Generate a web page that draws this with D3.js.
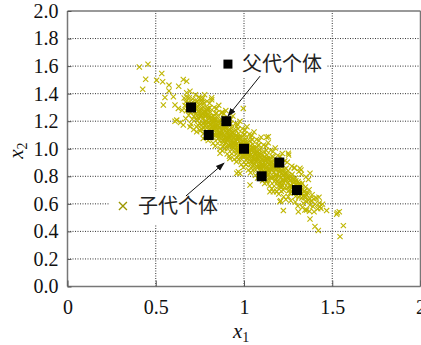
<!DOCTYPE html>
<html><head><meta charset="utf-8">
<script src="https://cdn.jsdelivr.net/npm/d3@7"></script>
<style>
html,body{margin:0;padding:0;background:#fff;}
svg{display:block;}
.serif{font-family:"Liberation Serif","Times New Roman","DejaVu Serif",serif;}
.cjk{font-family:"Noto Sans CJK SC","Noto Sans",sans-serif;}
</style></head>
<body><svg id="c" width="421" height="345"></svg>
<script>
// ---------- data ----------
const xTicks = [0, 0.5, 1, 1.5, 2];
const xTickLabels = ["0", "0.5", "1", "1.5", "2"];
const yTicks = [0, 0.2, 0.4, 0.6, 0.8, 1.0, 1.2, 1.4, 1.6, 1.8, 2.0];
const yTickLabels = ["0.0","0.2","0.4","0.6","0.8","1.0","1.2","1.4","1.6","1.8","2.0"];
const xGrid = [0.5, 1, 1.5];
const yGrid = [0.2, 0.4, 0.6, 0.8, 1.0, 1.2, 1.4, 1.6, 1.8];

const parentX = [0.7, 0.8, 0.9, 1.0, 1.1, 1.2, 1.3];
const parentY = [1.3, 1.1, 1.2, 1.0, 0.8, 0.9, 0.7];

// offspring individuals (dense band)
const offspringCore = [
[0.661,1.369],[0.666,1.314],[0.670,1.340],[0.674,1.276],[0.678,1.372],
[0.681,1.289],[0.684,1.336],[0.687,1.243],[0.690,1.371],[0.694,1.307],[0.698,1.263],
[0.701,1.330],[0.704,1.277],[0.707,1.214],[0.710,1.361],[0.713,1.298],[0.716,1.235],[0.719,1.323],
[0.721,1.271],[0.724,1.328],[0.727,1.215],[0.730,1.292],[0.733,1.239],[0.736,1.346],[0.739,1.173],
[0.741,1.271],[0.744,1.218],[0.747,1.315],[0.750,1.182],[0.753,1.280],[0.756,1.237],[0.759,1.334],[0.757,1.146],
[0.761,1.242],[0.764,1.279],[0.767,1.186],[0.770,1.303],[0.773,1.150],[0.776,1.247],[0.779,1.194],[0.772,1.331],
[0.781,1.232],[0.784,1.199],[0.787,1.266],[0.790,1.154],[0.793,1.291],[0.796,1.118],[0.799,1.235],[0.785,1.178],
[0.801,1.193],[0.804,1.240],[0.807,1.147],[0.810,1.264],[0.813,1.111],[0.816,1.208],[0.819,1.156],[0.806,1.298],[0.815,1.189],
[0.821,1.194],[0.824,1.141],[0.827,1.238],[0.830,1.105],[0.833,1.202],[0.836,1.159],[0.839,1.256],[0.826,1.079],[0.834,1.221],
[0.841,1.164],[0.844,1.201],[0.847,1.108],[0.850,1.225],[0.853,1.073],[0.856,1.170],[0.859,1.117],[0.845,1.260],[0.852,1.094],
[0.861,1.155],[0.864,1.122],[0.867,1.189],[0.870,1.076],[0.873,1.213],[0.876,1.040],[0.879,1.157],[0.865,1.101],[0.872,1.134],
[0.881,1.115],[0.884,1.162],[0.887,1.070],[0.890,1.187],[0.893,1.034],[0.896,1.131],[0.899,1.078],[0.886,1.221],[0.894,1.163],[0.882,1.014],
[0.901,1.116],[0.904,1.063],[0.907,1.160],[0.910,1.027],[0.913,1.124],[0.916,1.081],[0.919,1.178],[0.906,1.001],[0.912,1.095],
[0.921,1.087],[0.924,1.124],[0.927,1.031],[0.930,1.148],[0.933,0.995],[0.936,1.092],[0.939,1.039],[0.925,1.183],[0.932,1.016],[0.938,1.120],
[0.941,1.077],[0.944,1.044],[0.947,1.111],[0.950,0.998],[0.953,1.136],[0.956,0.963],[0.959,1.080],[0.945,1.023],[0.952,1.057],[0.958,1.161],
[0.961,1.038],[0.964,1.085],[0.967,0.992],[0.970,1.109],[0.973,0.956],[0.976,1.053],[0.979,1.000],[0.966,1.143],[0.974,1.085],[0.962,0.937],
[0.981,1.038],[0.984,0.985],[0.987,1.083],[0.990,0.950],[0.993,1.047],[0.996,1.004],[0.999,1.101],[0.986,0.924],[0.992,1.018],[0.997,0.953],
[1.001,1.009],[1.004,1.046],[1.007,0.953],[1.010,1.070],[1.013,0.917],[1.016,1.014],[1.019,0.962],[1.005,1.105],[1.012,0.888],[1.018,1.043],
[1.021,1.000],[1.024,0.967],[1.027,1.034],[1.030,0.921],[1.033,1.058],[1.036,0.885],[1.039,1.002],[1.025,0.946],[1.032,0.979],[1.038,1.083],
[1.041,0.960],[1.044,1.007],[1.047,0.914],[1.050,1.032],[1.053,0.879],[1.056,0.976],[1.059,0.923],[1.046,1.066],[1.054,1.008],[1.042,0.859],
[1.061,0.961],[1.064,0.908],[1.067,1.005],[1.070,0.872],[1.073,0.969],[1.076,0.926],[1.079,1.023],[1.066,0.846],[1.072,0.940],
[1.081,0.931],[1.084,0.968],[1.087,0.875],[1.090,0.992],[1.093,0.839],[1.096,0.937],[1.099,0.884],[1.085,1.027],[1.092,0.860],
[1.101,0.922],[1.104,0.889],[1.107,0.956],[1.110,0.843],[1.113,0.980],[1.116,0.807],[1.119,0.924],[1.105,0.868],[1.112,0.901],
[1.121,0.883],[1.124,0.930],[1.127,0.837],[1.130,0.954],[1.133,0.801],[1.136,0.898],[1.139,0.845],[1.126,0.988],[1.134,0.930],
[1.141,0.883],[1.144,0.830],[1.147,0.927],[1.150,0.794],[1.153,0.891],[1.156,0.848],[1.159,0.945],[1.146,0.768],
[1.161,0.854],[1.164,0.891],[1.167,0.798],[1.170,0.915],[1.173,0.762],[1.176,0.859],[1.179,0.806],[1.165,0.940],
[1.181,0.844],[1.184,0.811],[1.187,0.879],[1.190,0.766],[1.193,0.903],[1.196,0.730],[1.199,0.847],[1.185,0.790],
[1.201,0.805],[1.204,0.852],[1.207,0.759],[1.210,0.876],[1.213,0.723],[1.216,0.820],[1.219,0.767],[1.206,0.900],
[1.221,0.806],[1.224,0.753],[1.227,0.850],[1.230,0.717],[1.233,0.814],[1.236,0.771],[1.239,0.858],
[1.241,0.776],[1.244,0.813],[1.247,0.720],[1.250,0.838],[1.253,0.695],[1.256,0.782],[1.259,0.729],
[1.261,0.767],[1.264,0.734],[1.267,0.801],[1.270,0.688],[1.273,0.815],[1.276,0.702],[1.279,0.769],
[1.281,0.727],[1.284,0.774],[1.287,0.681],[1.290,0.788],[1.293,0.655],[1.296,0.742],
[1.301,0.728],[1.304,0.685],[1.307,0.762],[1.310,0.649],[1.313,0.736],[1.316,0.693],
[1.321,0.699],[1.324,0.736],[1.327,0.643],[1.330,0.750],[1.334,0.656],
[1.341,0.689],[1.344,0.646],[1.348,0.722],[1.352,0.618],[1.356,0.665],
[1.361,0.680],[1.365,0.626],[1.369,0.702],[1.374,0.637],
[1.381,0.620],[1.386,0.666],[1.391,0.581],[1.396,0.636],
[1.403,0.599],[1.410,0.642],[1.418,0.565],[1.427,0.606],[1.436,0.567],[1.445,0.598],
[0.722,1.296],[0.728,1.258],[0.734,1.301],[0.738,1.205],
[0.742,1.275],[0.748,1.236],[0.754,1.290],[0.758,1.172],
[0.763,1.256],[0.768,1.220],[0.774,1.272],[0.778,1.165],
[0.782,1.244],[0.788,1.200],[0.794,1.252],[0.798,1.140],
[0.802,1.220],[0.808,1.180],[0.814,1.232],[0.818,1.124],[0.811,1.170],
[0.822,1.200],[0.828,1.160],[0.832,1.214],[0.838,1.100],[0.831,1.145],
[0.842,1.180],[0.848,1.140],[0.854,1.195],[0.858,1.082],[0.849,1.128],
[0.862,1.160],[0.868,1.120],[0.874,1.175],[0.878,1.060],[0.869,1.105],
[0.882,1.140],[0.888,1.100],[0.894,1.155],[0.898,1.045],[0.889,1.085],
[0.902,1.122],[0.908,1.082],[0.914,1.137],[0.918,1.025],[0.909,1.068],
[0.922,1.102],[0.928,1.062],[0.934,1.117],[0.938,1.005],[0.929,1.048],
[0.942,1.083],[0.948,1.043],[0.954,1.098],[0.958,0.985],[0.949,1.028],
[0.962,1.064],[0.968,1.024],[0.974,1.078],[0.978,0.966],[0.969,1.010],
[0.982,1.044],[0.988,1.004],[0.994,1.058],[0.998,0.946],[0.989,0.990],
[1.002,1.025],[1.008,0.985],[1.014,1.039],[1.018,0.927],[1.009,0.970],
[1.022,1.006],[1.028,0.966],[1.034,1.020],[1.038,0.908],[1.029,0.951],
[1.042,0.986],[1.048,0.946],[1.054,1.000],[1.058,0.888],[1.049,0.932],
[1.062,0.967],[1.068,0.927],[1.074,0.981],[1.078,0.869],[1.069,0.912],
[1.082,0.947],[1.088,0.907],[1.094,0.961],[1.098,0.850],[1.089,0.893],
[1.102,0.928],[1.108,0.888],[1.114,0.942],[1.118,0.830],[1.109,0.874],
[1.122,0.909],[1.128,0.869],[1.134,0.923],[1.138,0.811],[1.129,0.854],
[1.142,0.889],[1.148,0.849],[1.154,0.903],[1.158,0.792],
[1.162,0.870],[1.168,0.830],[1.174,0.884],[1.178,0.772],
[1.182,0.850],[1.188,0.810],[1.194,0.864],[1.198,0.753],
[1.202,0.831],[1.208,0.791],[1.214,0.845],[1.218,0.734],
[1.222,0.812],[1.228,0.772],[1.234,0.826],
[1.242,0.792],[1.248,0.752],[1.254,0.806],
[1.262,0.773],[1.268,0.733],[1.274,0.787],
[1.282,0.753],[1.288,0.713],[1.294,0.767],
[1.302,0.734],[1.308,0.694],[1.314,0.748],
[1.322,0.714],[1.328,0.674],
[1.342,0.695],[1.348,0.655],
// band edges
[0.725,1.392],[0.731,1.160],
[0.745,1.375],[0.751,1.130],
[0.765,1.365],[0.771,1.110],[0.777,1.392],
[0.785,1.095],[0.791,1.345],[0.797,1.060],
[0.805,1.330],[0.811,1.080],[0.817,1.355],
[0.825,1.040],[0.831,1.300],[0.837,1.020],
[0.845,1.290],[0.851,1.040],[0.857,1.315],
[0.865,1.000],[0.871,1.262],[0.877,0.985],
[0.885,1.252],[0.891,1.002],[0.897,1.277],
[0.905,0.962],[0.911,1.222],[0.917,0.945],
[0.925,1.213],[0.931,0.963],[0.937,1.238],
[0.945,0.923],[0.951,1.183],[0.957,0.905],
[0.965,1.174],[0.971,0.924],[0.977,1.199],
[0.985,0.885],[0.991,1.145],[0.997,0.865],
[1.005,1.135],[1.011,0.885],[1.017,1.160],
[1.025,0.846],[1.031,1.106],[1.037,0.826],
[1.045,1.096],[1.051,0.846],[1.057,1.121],
[1.065,0.807],[1.071,1.067],[1.077,0.787],
[1.085,1.058],[1.091,0.808],[1.097,1.083],
[1.105,0.768],[1.111,1.028],[1.117,0.748],
[1.125,1.019],[1.131,0.769],[1.137,1.044],
[1.145,0.729],[1.151,0.989],[1.157,0.709],
[1.165,0.980],[1.171,0.730],[1.177,1.005],
[1.185,0.691],[1.191,0.951],[1.197,0.671],
[1.205,0.941],[1.211,0.691],[1.217,0.966],
[1.225,0.652],[1.231,0.912],[1.237,0.632],
[1.245,0.902],[1.251,0.652],
[1.265,0.623],[1.271,0.873],
[1.285,0.864],[1.291,0.614],
[1.305,0.584],[1.311,0.834],
[1.325,0.815],[1.331,0.575],
[1.345,0.555],[1.351,0.795],
[1.365,0.776],[1.371,0.546]
];
// offspring individuals (scattered)
const offspringSparse = [
[0.407,1.594],[0.456,1.614],[0.534,1.546],[0.443,1.505],[0.505,1.498],[0.426,1.432],[0.539,1.486],
[0.575,1.462],[0.630,1.454],[0.656,1.503],[0.675,1.490],[0.575,1.420],[0.552,1.372],[0.543,1.317],
[0.600,1.377],[0.609,1.317],[0.628,1.293],[0.675,1.406],[0.694,1.418],[0.650,1.280],[0.619,1.208],
[0.656,1.172],[0.694,1.159],[0.732,1.123],[0.817,1.370],[0.760,1.353],[0.792,1.280],[0.732,1.340],
[0.751,1.365],[0.798,1.293],[0.640,1.190],[0.670,1.220],[0.700,1.180],[0.715,1.140],[0.609,1.200],
[0.996,1.293],[1.128,1.083],[1.138,1.087],[1.253,0.954],[1.251,0.967],[1.034,0.737],[0.959,0.822],
[0.968,0.833],[0.879,1.264],[0.769,1.075],[0.864,0.967],[0.920,0.930],[0.977,0.820],[1.317,0.858],
[1.323,0.846],[1.374,0.822],[1.285,0.858],[1.425,0.648],[1.223,0.551],[1.308,0.543],[1.374,0.490],
[1.397,0.543],[1.430,0.580],[1.468,0.551],[1.540,0.543],[1.525,0.525],[1.529,0.536],[1.402,0.435],
[1.421,0.406],[1.563,0.442],[1.544,0.362],[1.204,0.616],[1.147,0.688],[1.128,0.761],[1.185,0.688],
[1.204,0.725],[1.260,0.700],[1.166,0.688],[1.261,0.677],[1.223,0.700],[1.336,0.604],[1.355,0.556],
[1.374,0.592],[1.208,0.623]
];

const legendItems = ["父代个体", "子代个体"];
const axisLabelX = "x", axisSubX = "1", axisLabelY = "x", axisSubY = "2";
// annotation anchors (data units)
const parentLegendPos = [0.909, 1.60];
const offspringLegendPos = [0.314, 0.585];
const arrowsFrom = [[1.091, 1.527], [0.671, 0.657]];
const arrowsTo   = [[0.909, 1.237], [0.887, 0.896]];

// ---------- drawing ----------
const svg = d3.select("#c");
const x = d3.scaleLinear().domain([0, 2]).range([67.5, 420.5]);
const y = d3.scaleLinear().domain([0, 2]).range([286.5, 11]);
const offColor = "#bfb600";

svg.append("rect").attr("width",421).attr("height",345).attr("fill","#fff");

// grid
const g = svg.append("g");
g.selectAll(".gx").data(xGrid).join("line")
  .attr("x1", d=>x(d)).attr("x2", d=>x(d)).attr("y1", y(0)).attr("y2", y(2))
  .attr("stroke","#333").attr("stroke-width",1).attr("stroke-dasharray","1,1.5");
g.selectAll(".gy").data(yGrid).join("line")
  .attr("x1", x(0)).attr("x2", x(2)).attr("y1", d=>y(d)).attr("y2", d=>y(d))
  .attr("stroke","#333").attr("stroke-width",1).attr("stroke-dasharray","1,1.5");

// offspring markers
const allOff = offspringCore.concat(offspringSparse);
const xs = 2.6;
const mk = svg.append("g").attr("stroke", offColor).attr("stroke-width", 1.1).attr("fill","none");
mk.selectAll("path").data(allOff).join("path")
  .attr("d", d => {
    const cx = x(d[0]), cy = y(d[1]);
    return `M${cx-xs},${cy-xs}L${cx+xs},${cy+xs}M${cx-xs},${cy+xs}L${cx+xs},${cy-xs}`;
  });

// parent squares
svg.append("g").selectAll("rect").data(parentX.map((v,i)=>[v,parentY[i]])).join("rect")
  .attr("x", d=>x(d[0])-5).attr("y", d=>y(d[1])-5).attr("width",10).attr("height",10)
  .attr("fill","#000");

// frame
const frame = svg.append("g").attr("stroke","#777").attr("stroke-width",1.5).attr("fill","none");
frame.append("line").attr("x1",x(0)).attr("x2",x(0)).attr("y1",y(0)).attr("y2",y(2));
frame.append("line").attr("x1",x(0)).attr("x2",x(2)).attr("y1",y(0)).attr("y2",y(0));
frame.append("line").attr("x1",x(0)).attr("x2",x(2)).attr("y1",y(2)).attr("y2",y(2));
frame.append("line").attr("x1",x(2)).attr("x2",x(2)).attr("y1",y(0)).attr("y2",y(2));

// axes (inner ticks)
const xAxis = d3.axisBottom(x).tickValues(xTicks).tickSize(-6).tickPadding(13)
  .tickFormat((d,i)=>xTickLabels[i]);
const ax = svg.append("g").attr("transform",`translate(0,${y(0)})`).call(xAxis)
  .attr("font-family", null).attr("font-size", null);
ax.select(".domain").remove();
ax.selectAll("line").attr("stroke","#555");
ax.selectAll("text").attr("class","serif").style("font-size","20px").attr("fill","#111");

const yAxis = d3.axisLeft(y).tickValues(yTicks).tickSize(-4).tickPadding(9)
  .tickFormat((d,i)=>yTickLabels[i]);
const ay = svg.append("g").attr("transform",`translate(${x(0)},0)`).call(yAxis)
  .attr("font-family", null).attr("font-size", null);
ay.select(".domain").remove();
ay.selectAll("line").attr("stroke","#555");
ay.selectAll("text").attr("class","serif").style("font-size","20px").attr("fill","#111");

// axis titles
const xt = svg.append("text").attr("class","serif").attr("x", x(1)-11).attr("y", 338)
  .style("font-size","21px").attr("fill","#111");
xt.append("tspan").attr("font-style","italic").text(axisLabelX);
xt.append("tspan").style("font-size","14px").attr("dy",4).text(axisSubX);

const yt = svg.append("text").attr("class","serif").attr("transform",`translate(23,${y(1)+10}) rotate(-90)`)
  .style("font-size","21px").attr("fill","#111");
yt.append("tspan").attr("font-style","italic").text(axisLabelY);
yt.append("tspan").style("font-size","14px").attr("dy",4).text(axisSubY);

// legends
const lg1 = svg.append("g");
lg1.append("rect").attr("x", x(parentLegendPos[0])-17).attr("y", y(parentLegendPos[1])-16)
  .attr("width",116).attr("height",28).attr("fill","#fff");
lg1.append("rect").attr("x", x(parentLegendPos[0])-4.5).attr("y", y(parentLegendPos[1])-6.5)
  .attr("width",9).attr("height",9).attr("fill","#000");
lg1.append("text").attr("class","cjk").attr("x", x(parentLegendPos[0])+14).attr("y", y(parentLegendPos[1])+5)
  .style("font-size","20px").attr("fill","#222").text(legendItems[0]);

const lg2 = svg.append("g");
lg2.append("rect").attr("x", x(offspringLegendPos[0])-13).attr("y", y(offspringLegendPos[1])-15)
  .attr("width",107).attr("height",34).attr("fill","#fff");
const lx = x(offspringLegendPos[0]), ly = y(offspringLegendPos[1]);
lg2.append("path").attr("d",`M${lx-4},${ly-4}L${lx+4},${ly+4}M${lx-4},${ly+4}L${lx+4},${ly-4}`)
  .attr("stroke","#9c9600").attr("stroke-width",1.3);
lg2.append("text").attr("class","cjk").attr("x", lx+15).attr("y", ly+7)
  .style("font-size","20px").attr("fill","#222").text(legendItems[1]);

// arrows
const defs = svg.append("defs");
defs.append("marker").attr("id","ah").attr("viewBox","0 0 10 10").attr("refX",9).attr("refY",5)
  .attr("markerWidth",9).attr("markerHeight",9).attr("markerUnits","userSpaceOnUse").attr("orient","auto")
  .append("path").attr("d","M0,1.5L10,5L0,8.5Z").attr("fill","#111");
svg.append("g").selectAll("line").data(arrowsFrom).join("line")
  .attr("x1", d=>x(d[0])).attr("y1", d=>y(d[1]))
  .attr("x2", (d,i)=>x(arrowsTo[i][0])).attr("y2", (d,i)=>y(arrowsTo[i][1]))
  .attr("stroke","#111").attr("stroke-width",1).attr("marker-end","url(#ah)");
</script>
</body></html>
